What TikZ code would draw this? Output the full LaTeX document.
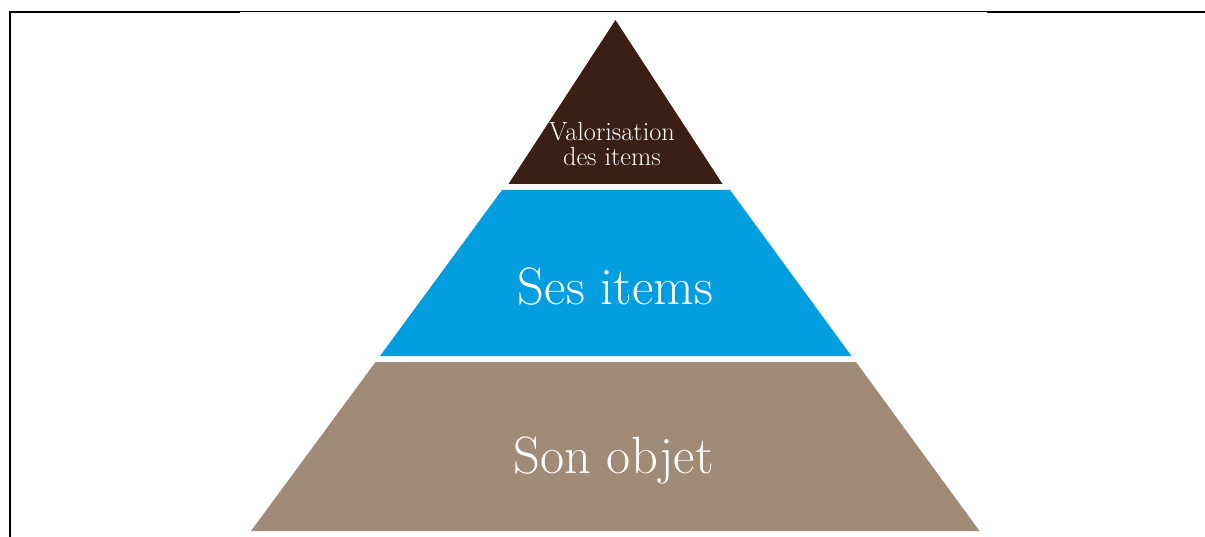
\documentclass[tikz,border=0pt]{standalone}
\definecolor{topc}{RGB}{59,31,21}
\definecolor{midc}{RGB}{0,158,223}
\definecolor{basec}{RGB}{160,139,119}
\tikzset{
  thickrule/.style={line width=2.2pt, black},
  thinrule/.style={line width=1pt, black},
  lbl/.style={text=white, inner sep=0pt, font=\fontsize{52.5}{60}\selectfont},
  smalllbl/.style={text=white, inner sep=0pt, align=center, font=\fontsize{26.3}{25}\selectfont}
}
\begin{document}
\begin{tikzpicture}[x=1pt,y=-1pt]
\useasboundingbox (0,0) rectangle (1205,537);
% frame
\coordinate (tl) at (10,12);
\coordinate (bl) at (10,537);
\coordinate (a1) at (240,12);
\coordinate (a2) at (987,12);
\coordinate (tr) at (1205,12);
\draw[thickrule] (bl) -- (tl) -- (a1);
\draw[thinrule] (a1) -- (a2);
\draw[thickrule] (a2) -- (tr);
% pyramid layers
\fill[topc] (615.5,20) -- (722.5,184) -- (508.5,184) -- cycle;
\fill[midc] (502,190) -- (730,190) -- (851.5,356) -- (380,356) -- cycle;
\fill[basec] (375.5,362) -- (856,362) -- (979.5,531) -- (251,531) -- cycle;
% labels
\node[smalllbl] (v) at (612,144) {Valorisation\\des items};
\node[lbl, anchor=base] (s) at (615.5,305) {Ses items};
\node[lbl, anchor=base] (o) at (613.5,473) {Son objet};
\end{tikzpicture}
\end{document}
